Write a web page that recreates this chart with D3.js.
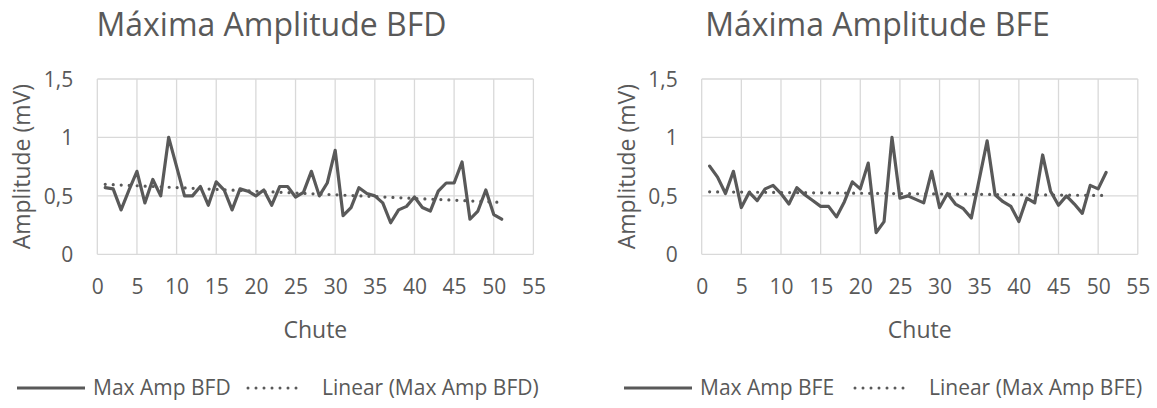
<!DOCTYPE html>
<html>
<head>
<meta charset="utf-8">
<script src="https://cdn.jsdelivr.net/npm/d3@7"></script>
<style>
  html, body { margin: 0; padding: 0; background: #ffffff; }
  svg { display: block; font-family: "Open Sans", sans-serif; }
</style>
</head>
<body>
<svg id="chart" width="1157" height="408"></svg>
<script>
// Shot number (x) shared by both series
const chute = [1,2,3,4,5,6,7,8,9,10,11,12,13,14,15,16,17,18,19,20,21,22,23,24,25,26,27,28,29,30,31,32,33,34,35,36,37,38,39,40,41,42,43,44,45,46,47,48,49,50,51];

// Maximum amplitude (mV) per shot
const maxAmpBFD = [0.57,0.56,0.38,0.55,0.71,0.44,0.64,0.50,1.00,0.75,0.50,0.50,0.58,0.42,0.62,0.55,0.38,0.56,0.54,0.50,0.55,0.42,0.58,0.58,0.49,0.53,0.71,0.50,0.61,0.89,0.33,0.40,0.57,0.52,0.50,0.44,0.27,0.38,0.41,0.49,0.40,0.37,0.54,0.61,0.61,0.79,0.30,0.37,0.55,0.34,0.30];
const maxAmpBFE = [0.755,0.66,0.52,0.71,0.40,0.53,0.46,0.56,0.59,0.52,0.43,0.57,0.51,0.46,0.41,0.41,0.32,0.45,0.62,0.56,0.78,0.185,0.28,1.00,0.48,0.50,0.47,0.44,0.71,0.40,0.52,0.43,0.39,0.31,0.64,0.97,0.51,0.45,0.41,0.28,0.48,0.44,0.85,0.54,0.42,0.50,0.43,0.35,0.59,0.56,0.70];

// Axis ticks
const xTicks = [0,5,10,15,20,25,30,35,40,45,50,55];
const yTicks = [0,0.5,1,1.5];

const titles = ["Máxima Amplitude BFD", "Máxima Amplitude BFE"];
const seriesNames = ["Max Amp BFD", "Max Amp BFE"];
const xTitle = "Chute";
const yTitle = "Amplitude (mV)";

const ptBR = d3.formatLocale({ decimal: ",", thousands: ".", grouping: [3], currency: ["R$", ""] });
const fmtY = ptBR.format("~g");

const TEXT = "#595959";
const GRID = "#d9d9d9";
const LINE = "#595959";

const svg = d3.select("#chart");

// Least-squares linear trend
function linearFit(xs, ys) {
  const mx = d3.mean(xs), my = d3.mean(ys);
  let sxy = 0, sxx = 0;
  xs.forEach((x, i) => { sxy += (x - mx) * (ys[i] - my); sxx += (x - mx) * (x - mx); });
  const b = sxy / sxx;
  const a = my - b * mx;
  return x => a + b * x;
}

function drawPanel(cfg) {
  const g = svg.append("g");
  const x = d3.scaleLinear().domain([0, 55]).range([cfg.x0, cfg.x1]);
  const y = d3.scaleLinear().domain([0, 1.5]).range([254.3, 79]);

  // title
  g.append("text")
    .attr("x", cfg.titleX).attr("y", 36)
    .attr("text-anchor", "middle")
    .attr("font-size", 32).attr("fill", TEXT)
    .text(cfg.title);

  // gridlines
  g.append("g").selectAll("line").data(yTicks).join("line")
    .attr("x1", x(0)).attr("x2", x(55))
    .attr("y1", d => y(d)).attr("y2", d => y(d))
    .attr("stroke", GRID).attr("stroke-width", 1.3);
  g.append("g").selectAll("line").data(xTicks).join("line")
    .attr("x1", d => x(d)).attr("x2", d => x(d))
    .attr("y1", y(0)).attr("y2", y(1.5))
    .attr("stroke", GRID).attr("stroke-width", 1.3);

  // axes (labels only; lines come from the grid)
  const xAxis = d3.axisBottom(x).tickValues(xTicks).tickSize(0).tickPadding(0).tickFormat(d3.format("d"));
  const xa = g.append("g").attr("transform", `translate(0,${y(0)})`).call(xAxis);
  xa.select(".domain").remove();
  xa.selectAll("text").attr("dy", null).attr("y", 40)
    .attr("font-size", 21).attr("font-family", "Open Sans").attr("fill", TEXT);

  const yAxis = d3.axisLeft(y).tickValues(yTicks).tickSize(0).tickPadding(0).tickFormat(fmtY);
  const ya = g.append("g").attr("transform", `translate(${x(0) - 24},0)`).call(yAxis);
  ya.select(".domain").remove();
  ya.selectAll("text").attr("dy", "0.36em")
    .attr("font-size", 21).attr("font-family", "Open Sans").attr("fill", TEXT);

  // axis titles
  g.append("text")
    .attr("x", (x(0) + x(55)) / 2).attr("y", 338)
    .attr("text-anchor", "middle").attr("font-size", 23).attr("fill", TEXT)
    .text(xTitle);
  g.append("text")
    .attr("transform", `translate(${cfg.x0 - 67},${(y(0) + y(1.5)) / 2}) rotate(-90)`)
    .attr("text-anchor", "middle").attr("font-size", 23).attr("fill", TEXT)
    .text(yTitle);

  // series line
  const pts = chute.map((c, i) => [c, cfg.values[i]]);
  g.append("path")
    .datum(pts)
    .attr("fill", "none").attr("stroke", LINE).attr("stroke-width", 3.2)
    .attr("stroke-linejoin", "round").attr("stroke-linecap", "round")
    .attr("d", d3.line().x(d => x(d[0])).y(d => y(d[1])));

  // linear trendline
  const fit = linearFit(chute, cfg.values);
  const xs = [chute[0], chute[chute.length - 1]];
  g.append("path")
    .datum(xs)
    .attr("fill", "none").attr("stroke", LINE).attr("stroke-width", 3.2)
    .attr("stroke-linecap", "round").attr("stroke-dasharray", "0 8")
    .attr("d", d3.line().x(d => x(d)).y(d => y(fit(d))));

  // legend
  const ly = 388;
  const lg = g.append("g");
  lg.append("line").attr("x1", cfg.legX).attr("x2", cfg.legX + 68)
    .attr("y1", ly).attr("y2", ly).attr("stroke", LINE).attr("stroke-width", 3.2);
  lg.append("text").attr("x", cfg.legX + 76).attr("y", ly).attr("dy", "0.35em")
    .attr("font-size", 21).attr("fill", TEXT).text(cfg.name);
  lg.append("line").attr("x1", cfg.legX + 231).attr("x2", cfg.legX + 287)
    .attr("y1", ly).attr("y2", ly).attr("stroke", LINE).attr("stroke-width", 3)
    .attr("stroke-linecap", "round").attr("stroke-dasharray", "0 8");
  lg.append("text").attr("x", cfg.legX + 305).attr("y", ly).attr("dy", "0.35em")
    .attr("font-size", 21).attr("fill", TEXT).text(`Linear (${cfg.name})`);
}

drawPanel({ x0: 97.3, x1: 533.4, titleX: 271.5, title: titles[0], values: maxAmpBFD, name: seriesNames[0], legX: 17 });
drawPanel({ x0: 701.7, x1: 1137.8, titleX: 877.5, title: titles[1], values: maxAmpBFE, name: seriesNames[1], legX: 624 });
</script>
</body>
</html>
